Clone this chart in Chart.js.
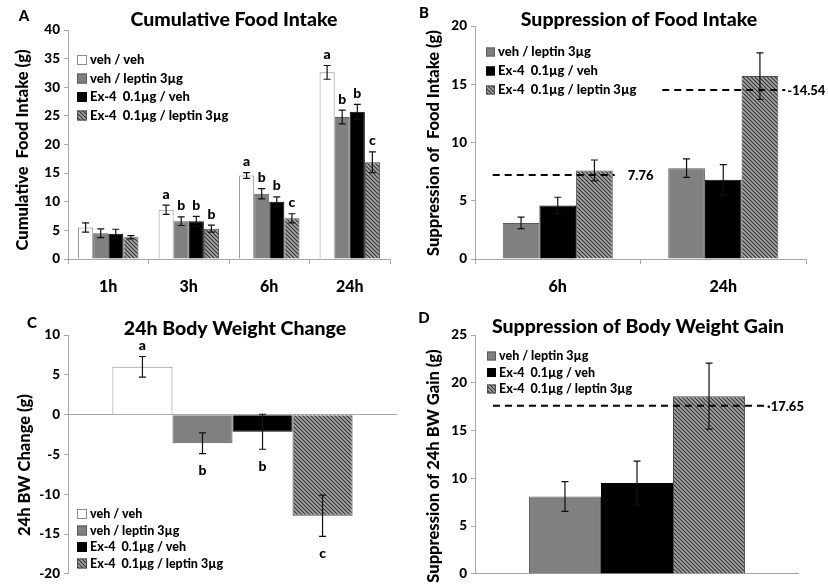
<!DOCTYPE html>
<html>
<head>
<meta charset="utf-8">
<script src="https://cdn.jsdelivr.net/npm/chart.js@4.4.1/dist/chart.umd.min.js"></script>
<style>
  body { margin: 0; background: #fff; width: 828px; height: 586px; position: relative; overflow: hidden; }
  .panel { position: absolute; width: 414px; height: 293px; }
</style>
</head>
<body>
<div class="panel" style="left:0;top:0"><canvas id="chartA" width="414" height="293"></canvas></div>
<div class="panel" style="left:414px;top:0"><canvas id="chartB" width="414" height="293"></canvas></div>
<div class="panel" style="left:0;top:293px"><canvas id="chartC" width="414" height="293"></canvas></div>
<div class="panel" style="left:414px;top:293px"><canvas id="chartD" width="414" height="293"></canvas></div>
<script>
// ---- data ----
const groupNames = ['veh / veh', 'veh / leptin 3µg', 'Ex-4  0.1µg / veh', 'Ex-4  0.1µg / leptin 3µg'];

// A: cumulative food intake (g)
const timesA = ['1h', '3h', '6h', '24h'];
const vehVehA = [5.5, 8.6, 14.6, 32.6];
const vehVehErrA = [0.8, 0.8, 0.5, 1.2];
const vehVehSigA = ['', 'a', 'a', 'a'];
const vehLepA = [4.5, 6.6, 11.4, 24.8];
const vehLepErrA = [0.75, 0.75, 0.9, 1.2];
const vehLepSigA = ['', 'b', 'b', 'b'];
const ex4VehA = [4.4, 6.6, 10.0, 25.7];
const ex4VehErrA = [0.8, 0.85, 0.85, 1.3];
const ex4VehSigA = ['', 'b', 'b', 'b'];
const ex4LepA = [3.8, 5.3, 7.1, 16.9];
const ex4LepErrA = [0.3, 0.6, 0.8, 1.8];
const ex4LepSigA = ['', 'b', 'c', 'c'];

// B: suppression of food intake (g)
const timesB = ['6h', '24h'];
const vehLepB = [3.1, 7.8];
const vehLepErrB = [0.5, 0.8];
const ex4VehB = [4.6, 6.8];
const ex4VehErrB = [0.7, 1.3];
const ex4LepB = [7.6, 15.7];
const ex4LepErrB = [0.9, 2.0];
const sumLineB = [7.2, 14.5];
const sumLabelB = ['7.76', '14.54'];

// C: 24h body weight change (g)
const bwChangeC = [6.0, -3.6, -2.15, -12.7];
const bwChangeErrC = [1.3, 1.3, 2.2, 2.6];
const bwChangeSigC = ['a', 'b', 'b', 'c'];

// D: suppression of 24h BW gain (g)
const bwSuppD = [8.1, 9.5, 18.6];
const bwSuppErrD = [1.55, 2.3, 3.45];
const sumLineD = [17.6];
const sumLabelD = ['17.65'];

// ---- styles ----
const FONT = 'Lato, "DejaVu Sans", sans-serif';
const W = '900';
const AXIS = '#a6a6a6';
Chart.defaults.font.family = FONT;
Chart.defaults.font.weight = W;
Chart.defaults.color = '#000';

function makeHatch() {
  const c = document.createElement('canvas');
  c.width = 4; c.height = 4;
  const g = c.getContext('2d');
  g.fillStyle = '#a8a8a8';
  g.fillRect(0, 0, 4, 4);
  g.strokeStyle = '#333';
  g.lineWidth = 1.2;
  g.beginPath();
  g.moveTo(-1, -1); g.lineTo(5, 5);
  g.moveTo(-1, 3); g.lineTo(1, 5);
  g.moveTo(3, -1); g.lineTo(5, 1);
  g.stroke();
  return g.createPattern(c, 'repeat');
}
const hatch = makeHatch();
const fills = ['#ffffff', '#808080', '#000000', hatch];
const borders = ['#8c8c8c', '#5a5a5a', '#000000', '#4a4a4a'];

function bars(i, data, errs, sig) {
  return {
    label: groupNames[i], data: data, errorBars: errs, sigLetters: sig || [],
    backgroundColor: fills[i], borderColor: borders[i], borderWidth: 1
  };
}

// error bars, letters, dashed additive lines, titles, legend
const panelDeco = {
  id: 'panelDeco',
  afterDatasetsDraw(chart, args, opts) {
    const ctx = chart.ctx, y = chart.scales.y;
    ctx.save();
    chart.data.datasets.forEach((ds, i) => {
      chart.getDatasetMeta(i).data.forEach((bar, j) => {
        const v = ds.data[j], e = ds.errorBars[j];
        const yHi = y.getPixelForValue(v + e), yLo = y.getPixelForValue(v - e);
        ctx.strokeStyle = '#111';
        ctx.lineWidth = 1.2;
        ctx.beginPath();
        ctx.moveTo(bar.x, yHi); ctx.lineTo(bar.x, yLo);
        ctx.moveTo(bar.x - 3.5, yHi); ctx.lineTo(bar.x + 3.5, yHi);
        ctx.moveTo(bar.x - 3.5, yLo); ctx.lineTo(bar.x + 3.5, yLo);
        ctx.stroke();
        const s = ds.sigLetters[j];
        if (s) {
          ctx.fillStyle = '#000';
          ctx.font = W + ' 14px ' + FONT;
          ctx.textAlign = 'center';
          ctx.textBaseline = 'middle';
          ctx.fillText(s, bar.x, v >= 0 ? yHi - 11 : yLo + 17);
        }
      });
    });
    (opts.refLines || []).forEach(r => {
      const first = chart.getDatasetMeta(0).data[r.index];
      const last = chart.getDatasetMeta(chart.data.datasets.length - 1).data[r.index];
      const x1 = first.x - first.width / 2 - r.padL;
      const x2 = last.x + last.width / 2 + r.padR;
      const yy = y.getPixelForValue(r.value);
      ctx.strokeStyle = '#000';
      ctx.lineWidth = 2;
      ctx.setLineDash([7, 5]);
      ctx.beginPath();
      ctx.moveTo(x1, yy); ctx.lineTo(x2, yy);
      ctx.stroke();
      ctx.setLineDash([]);
      ctx.fillStyle = '#000';
      ctx.font = W + ' 13px ' + FONT;
      ctx.textAlign = 'left';
      ctx.textBaseline = 'middle';
      ctx.fillText(r.label, x2 + r.gap, yy + 1);
    });
    ctx.restore();
  },
  afterDraw(chart, args, opts) {
    const ctx = chart.ctx;
    ctx.save();
    ctx.fillStyle = '#000';
    ctx.textAlign = 'center';
    ctx.textBaseline = 'middle';
    ctx.font = W + ' 15px ' + FONT;
    ctx.fillText(opts.letter, opts.letterAt[0], opts.letterAt[1]);
    ctx.font = W + ' 19.5px ' + FONT;
    ctx.fillText(opts.title, opts.titleAt[0], opts.titleAt[1]);
    ctx.save();
    ctx.translate(opts.yTitleAt[0], opts.yTitleAt[1]);
    ctx.rotate(-Math.PI / 2);
    ctx.font = W + ' 16.5px ' + FONT;
    ctx.fillText(opts.yTitle, 0, 0);
    ctx.restore();
    const lg = opts.legend;
    ctx.textAlign = 'left';
    ctx.font = W + ' ' + lg.size + 'px ' + FONT;
    chart.data.datasets.forEach((ds, i) => {
      const cy = lg.y + i * lg.dy;
      ctx.fillStyle = ds.backgroundColor;
      ctx.fillRect(lg.x, cy - lg.box / 2, lg.box, lg.box);
      ctx.strokeStyle = ds.borderColor;
      ctx.lineWidth = 1;
      ctx.strokeRect(lg.x + 0.5, cy - lg.box / 2 + 0.5, lg.box - 1, lg.box - 1);
      ctx.fillStyle = '#000';
      ctx.fillText(ds.label, lg.x + lg.box + 3, cy);
    });
    ctx.restore();
  }
};

function yAxis(min, max, width, zeroLine) {
  return {
    min: min, max: max,
    ticks: { stepSize: 5, padding: 4, font: { size: 13.5, weight: W }, color: '#000' },
    grid: {
      drawOnChartArea: !!zeroLine, tickLength: 4, tickColor: AXIS,
      color: ctx => (zeroLine && ctx.tick && ctx.tick.value === 0) ? AXIS : 'rgba(0,0,0,0)'
    },
    border: { color: AXIS },
    afterFit: s => { s.width = width; }
  };
}

function xAxis(height) {
  return {
    grid: { drawOnChartArea: false, offset: true, color: AXIS, tickLength: 5 },
    border: { color: AXIS },
    ticks: { font: { size: 16, weight: W }, padding: 13, color: '#000' },
    afterFit: s => { s.height = height; }
  };
}

function baseOptions(pad, catPct, scales, deco) {
  return {
    responsive: false,
    animation: false,
    layout: { padding: pad },
    datasets: { bar: { categoryPercentage: catPct, barPercentage: 1 } },
    scales: scales,
    plugins: { legend: { display: false }, tooltip: { enabled: false }, panelDeco: deco }
  };
}

// A
new Chart(document.getElementById('chartA'), {
  type: 'bar',
  data: {
    labels: timesA,
    datasets: [
      bars(0, vehVehA, vehVehErrA, vehVehSigA),
      bars(1, vehLepA, vehLepErrA, vehLepSigA),
      bars(2, ex4VehA, ex4VehErrA, ex4VehSigA),
      bars(3, ex4LepA, ex4LepErrA, ex4LepSigA)
    ]
  },
  options: baseOptions({ left: 0, top: 30, right: 24, bottom: 0 }, 0.75,
    { x: xAxis(34), y: yAxis(0, 40, 68, false) },
    { letter: 'A', letterAt: [24, 16], title: 'Cumulative Food Intake', titleAt: [234, 20],
      yTitle: 'Cumulative  Food Intake (g)', yTitleAt: [23, 150],
      legend: { x: 77, y: 60, dy: 18.5, box: 10, size: 13 } }),
  plugins: [panelDeco]
});

// B
new Chart(document.getElementById('chartB'), {
  type: 'bar',
  data: {
    labels: timesB,
    datasets: [
      bars(1, vehLepB, vehLepErrB),
      bars(2, ex4VehB, ex4VehErrB),
      bars(3, ex4LepB, ex4LepErrB)
    ]
  },
  options: baseOptions({ left: 0, top: 26, right: 22, bottom: 0 }, 0.665,
    { x: xAxis(34), y: yAxis(0, 20, 61, false) },
    { letter: 'B', letterAt: [10, 13], title: 'Suppression of Food Intake', titleAt: [225, 20],
      yTitle: 'Suppression of  Food Intake (g)', yTitleAt: [20, 143],
      legend: { x: 72, y: 52, dy: 19, box: 9, size: 13 },
      refLines: [
        { index: 0, value: sumLineB[0], label: sumLabelB[0], padL: 10, padR: 2, gap: 13 },
        { index: 1, value: sumLineB[1], label: '-' + sumLabelB[1], padL: 6, padR: 7, gap: 2 }
      ] }),
  plugins: [panelDeco]
});

// C
new Chart(document.getElementById('chartC'), {
  type: 'bar',
  data: {
    labels: [''],
    datasets: bwChangeC.map((v, i) => bars(i, [v], [bwChangeErrC[i]], [bwChangeSigC[i]]))
  },
  options: baseOptions({ left: 0, top: 42, right: 17, bottom: 11 }, 0.73,
    { x: { display: false }, y: yAxis(-20, 10, 68, true) },
    { letter: 'C', letterAt: [32, 30], title: '24h Body Weight Change', titleAt: [235, 36],
      yTitle: '24h BW Change (g)', yTitleAt: [25, 172],
      legend: { x: 77, y: 221, dy: 16.5, box: 10, size: 12.5 } }),
  plugins: [panelDeco]
});

// D
new Chart(document.getElementById('chartD'), {
  type: 'bar',
  data: {
    labels: [''],
    datasets: bwSuppD.map((v, i) => bars(i + 1, [v], [bwSuppErrD[i]]))
  },
  options: baseOptions({ left: 0, top: 42, right: 29, bottom: 11 }, 0.667,
    { x: { display: false }, y: yAxis(0, 25, 61, true) },
    { letter: 'D', letterAt: [10, 25], title: 'Suppression of Body Weight Gain', titleAt: [224, 34],
      yTitle: 'Suppression of 24h BW Gain (g)', yTitleAt: [20, 173],
      legend: { x: 73, y: 63, dy: 16.5, box: 9, size: 12.5 },
      refLines: [
        { index: 0, value: sumLineD[0], label: '·' + sumLabelD[0], padL: 36, padR: 19, gap: 3 }
      ] }),
  plugins: [panelDeco]
});
</script>
</body>
</html>
